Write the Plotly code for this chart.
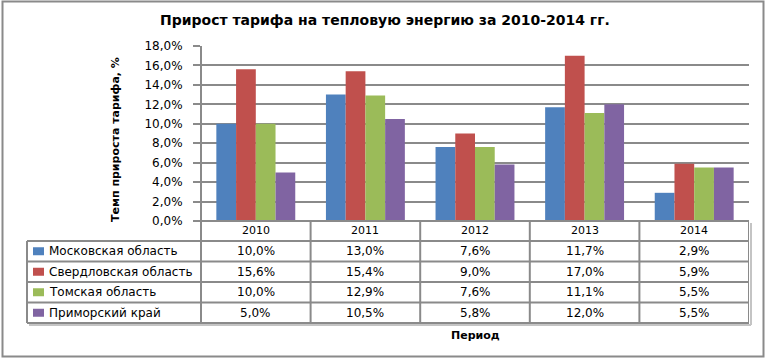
import plotly.graph_objects as go

years = ["2010", "2011", "2012", "2013", "2014"]
series_names = ["Московская область", "Свердловская область", "Томская область", "Приморский край"]
moscow = [10.0, 13.0, 7.6, 11.7, 2.9]
sverdlovsk = [15.6, 15.4, 9.0, 17.0, 5.9]
tomsk = [10.0, 12.9, 7.6, 11.1, 5.5]
primorye = [5.0, 10.5, 5.8, 12.0, 5.5]
series_values = [moscow, sverdlovsk, tomsk, primorye]
colors = ["#4F81BD", "#C0504D", "#9BBB59", "#8064A2"]

title = "Прирост тарифа на тепловую энергию за 2010-2014 гг."
y_title = "Темп прироста тарифа, %"
x_title = "Период"

W, H = 768, 358
FONT = "DejaVu Sans"
GRID = "#8a8a8a"
SHADOW = "#c4c4c4"


def px(x):
    return x / W


def py(y):
    return 1 - y / H


fig = go.Figure()
for name, vals, col in zip(series_names, series_values, colors):
    fig.add_trace(go.Bar(x=years, y=vals, name=name, marker=dict(color=col, line=dict(width=0)),
                         showlegend=False, hoverinfo="skip"))

plot_left, plot_right = 201, 749
plot_top, plot_bottom = 46, 221
row_lines = [241, 261.5, 282, 302.5, 323]
table_left = 27

shapes = []
# outer border
shapes.append(dict(type="rect", xref="paper", yref="paper", x0=px(2.5), x1=px(763.5), y0=py(356.5), y1=py(1.5),
                   line=dict(color=GRID, width=2)))
# table shadow
shapes.append(dict(type="line", xref="paper", yref="paper", x0=px(plot_right + 2), x1=px(plot_right + 2),
                   y0=py(row_lines[-1] + 2), y1=py(plot_bottom + 2), line=dict(color=SHADOW, width=2)))
shapes.append(dict(type="line", xref="paper", yref="paper", x0=px(table_left + 2), x1=px(plot_right + 2),
                   y0=py(row_lines[-1] + 2), y1=py(row_lines[-1] + 2), line=dict(color=SHADOW, width=2)))
# left axis line extended through table header
shapes.append(dict(type="line", xref="paper", yref="paper", x0=px(plot_left), x1=px(plot_left),
                   y0=py(row_lines[-1]), y1=py(plot_top), line=dict(color=GRID, width=2)))
# x axis line
shapes.append(dict(type="line", xref="paper", yref="paper", x0=px(plot_left), x1=px(plot_right),
                   y0=py(plot_bottom), y1=py(plot_bottom), line=dict(color=GRID, width=2)))
# horizontal table lines
for yl in row_lines:
    shapes.append(dict(type="line", xref="paper", yref="paper", x0=px(table_left), x1=px(plot_right),
                       y0=py(yl), y1=py(yl), line=dict(color=GRID, width=2)))
# left border of legend column
shapes.append(dict(type="line", xref="paper", yref="paper", x0=px(table_left), x1=px(table_left),
                   y0=py(row_lines[-1]), y1=py(row_lines[0]), line=dict(color=GRID, width=2)))
# category separators
for k in range(1, len(years) + 1):
    shapes.append(dict(type="line", xref="x", yref="paper", x0=k - 0.5, x1=k - 0.5,
                       y0=py(row_lines[-1]), y1=py(plot_bottom), line=dict(color=GRID, width=2)))
# legend keys
for i, col in enumerate(colors):
    yc = (row_lines[i] + row_lines[i + 1]) / 2
    shapes.append(dict(type="rect", xref="paper", yref="paper", x0=px(33), x1=px(44),
                       y0=py(yc + 4), y1=py(yc - 4), fillcolor=col, line=dict(width=0)))

annotations = []
annotations.append(dict(text="<b>" + title + "</b>", xref="paper", yref="paper", x=px(385), y=py(20),
                        showarrow=False, font=dict(family=FONT, size=14, color="#000000"),
                        xanchor="center", yanchor="middle"))
annotations.append(dict(text="<b>" + y_title + "</b>", xref="paper", yref="paper", x=px(116), y=py(140),
                        showarrow=False, textangle=-90, font=dict(family=FONT, size=11, color="#000000"),
                        xanchor="center", yanchor="middle"))
annotations.append(dict(text="<b>" + x_title + "</b>", xref="paper", yref="paper", x=px(475), y=py(335),
                        showarrow=False, font=dict(family=FONT, size=11, color="#000000"),
                        xanchor="center", yanchor="middle"))
# header row (years)
for j, yr in enumerate(years):
    annotations.append(dict(text=yr, xref="x", yref="paper", x=j, y=py((plot_bottom + row_lines[0]) / 2),
                            showarrow=False, font=dict(family=FONT, size=11, color="#000000"),
                            xanchor="center", yanchor="middle"))
# table rows
for i, (name, vals) in enumerate(zip(series_names, series_values)):
    yc = (row_lines[i] + row_lines[i + 1]) / 2
    annotations.append(dict(text=name, xref="paper", yref="paper", x=px(47), y=py(yc),
                            showarrow=False, font=dict(family=FONT, size=12, color="#000000"),
                            xanchor="left", yanchor="middle"))
    for j, v in enumerate(vals):
        annotations.append(dict(text=f"{v:.1f}%".replace(".", ","), xref="x", yref="paper", x=j, y=py(yc),
                                showarrow=False, font=dict(family=FONT, size=12, color="#000000"),
                                xanchor="center", yanchor="middle"))

fig.update_layout(
    template="none",
    width=W, height=H,
    margin=dict(l=0, r=0, t=0, b=0, pad=0),
    paper_bgcolor="white", plot_bgcolor="white",
    separators=", ",
    barmode="group", bargap=0.28, bargroupgap=0,
    font=dict(family=FONT, size=11, color="#000000"),
    hovermode=False,
    xaxis=dict(domain=[px(plot_left), px(plot_right)], type="category", range=[-0.5, 4.5],
               showticklabels=False, showgrid=False, zeroline=False, showline=False, ticks="",
               automargin=False),
    yaxis=dict(domain=[py(plot_bottom), py(plot_top)], range=[0, 18], dtick=2, tickformat=".1f",
               ticksuffix="%", showgrid=True, gridcolor=GRID, gridwidth=2, zeroline=False,
               showline=False, ticks="outside", ticklen=7, tickcolor=GRID, tickwidth=2,
               ticklabelstandoff=8, automargin=False,
               tickfont=dict(family=FONT, size=12, color="#000000")),
    shapes=shapes,
    annotations=annotations,
)

fig.write_html("out.html", config={"displayModeBar": False},
               post_script="document.body.style.margin='0';document.body.style.overflow='hidden';")
